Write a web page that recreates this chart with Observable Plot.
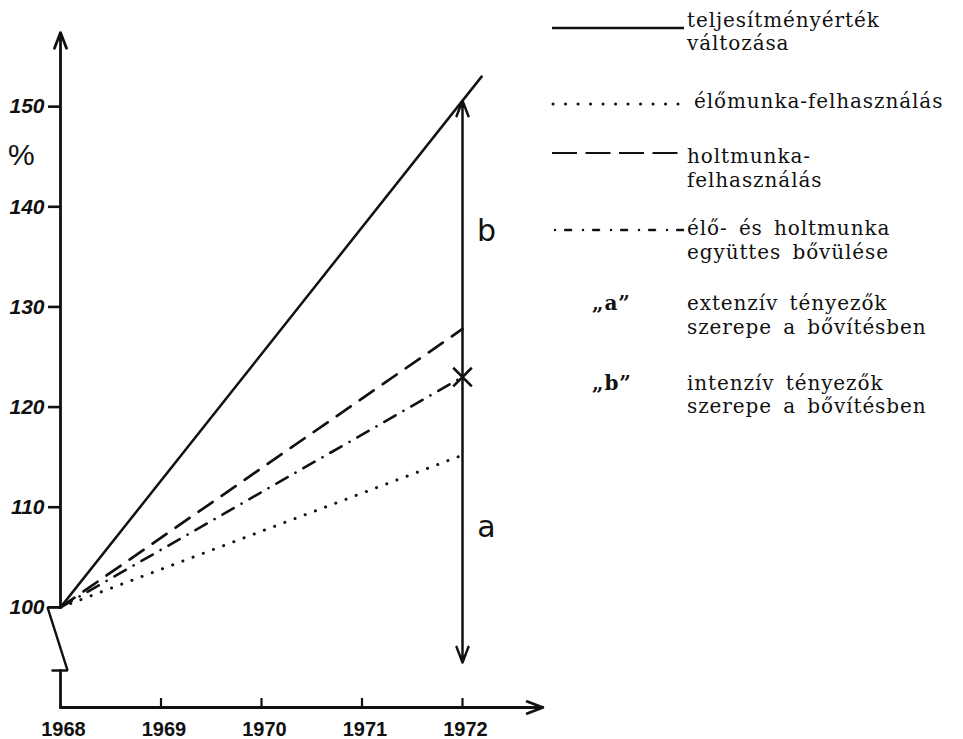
<!DOCTYPE html>
<html><head><meta charset="utf-8">
<script src="https://cdn.jsdelivr.net/npm/d3@7"></script>
<script src="https://cdn.jsdelivr.net/npm/@observablehq/plot@0.6"></script>
<style>
html,body{margin:0;padding:0;background:#fff;}
#chart svg{display:block;background:#fff;}
</style></head><body><div id="chart"></div>
<script>
// ---- data ----
const years = [1968, 1972];
const xTicks = [1968, 1969, 1970, 1971, 1972];
const xTickLabels = ["1968", "1969", "1970", "1971", "1972"];
const yTicks = [100, 110, 120, 130, 140, 150];

// teljesítményérték változása (solid, drawn a little beyond 1972)
const teljYears = [1968, 1972.19];
const teljValues = [100, 153.0];
// élőmunka-felhasználás (dotted)
const eloValues = [100, 115.2];
// holtmunka-felhasználás (dashed)
const holtValues = [100, 127.8];
// élő- és holtmunka együttes bővülése (dash-dot)
const egyuttValues = [100, 123.0];

// the a / b double arrow at 1972
const arrowYear = 1972;
const arrowBottom = 94.5;
const arrowSplit = 123.0;
const arrowTop = 150.6;
const segLabels = ["a", "b"];
const segLabelValues = [108, 137.5];

// axis extents and the broken-axis zigzag
const yDomain = [90, 160];
const yAxisTop = 157.4;
const xAxisEnd = 1972.8;
const axisBreakX = [1968, 1967.871, 1968.07, 1967.92];
const axisBreakY = [100, 100, 93.7, 93.7];

// legend
const legendKinds = ["solid", "dotted", "dashed", "dashdot", "„a”", "„b”"];
const legendTexts = [
  ["teljesítményérték", "változása"],
  ["élőmunka-felhasználás"],
  ["holtmunka-", "felhasználás"],
  ["élő- és holtmunka", "együttes bővülése"],
  ["extenzív tényezők", "szerepe a bővítésben"],
  ["intenzív tényezők", "szerepe a bővítésben"]
];

const W = 963, H = 739;
const ink = "#111";

const chart = Plot.plot({
  width: W,
  height: H,
  marginLeft: 60,
  marginRight: 501,
  marginTop: 6,
  marginBottom: 32,
  x: {domain: [years[0], years[1]], axis: null},
  y: {domain: yDomain, axis: null},
  style: {background: "#fff", color: ink},
  marks: [
    // y axis (upper part with arrow, lower stub, zigzag break)
    Plot.arrow([0], {x1: years[0], y1: 100, x2: years[0], y2: yAxisTop, stroke: ink, strokeWidth: 2.8, headLength: 9, headAngle: 42}),
    Plot.line([0, 1], {x: [years[0], years[0]], y: [axisBreakY[2], yDomain[0]], stroke: ink, strokeWidth: 2.8}),
    Plot.line(axisBreakX, {x: axisBreakX, y: axisBreakY, stroke: ink, strokeWidth: 2.4, strokeLinejoin: "miter"}),
    Plot.axisY({ticks: yTicks, tickSize: 12, tickPadding: 4, strokeWidth: 2.6, fontSize: 21, fontStyle: "italic", fontWeight: "bold", fontFamily: "Liberation Sans", fill: ink}),
    // x axis
    Plot.arrow([0], {x1: years[0], y1: yDomain[0], x2: xAxisEnd, y2: yDomain[0], stroke: ink, strokeWidth: 2.8, headLength: 9, headAngle: 42}),
    Plot.tickX(xTicks.slice(1), {x: d => d, insetTop: 692, stroke: ink, strokeWidth: 2.2}),
    Plot.text(xTicks, {x: d => d, y: yDomain[0], text: (d, i) => xTickLabels[i], dy: 22, dx: 3, fontSize: 20, fontWeight: "bold", fontFamily: "Liberation Sans", fill: ink}),
    // series
    Plot.line(teljValues, {x: teljYears, y: teljValues, stroke: ink, strokeWidth: 2.5}),
    Plot.line(holtValues, {x: years, y: holtValues, stroke: ink, strokeWidth: 2.7, strokeDasharray: "17,11"}),
    Plot.line(egyuttValues, {x: years, y: egyuttValues, stroke: ink, strokeWidth: 2.6, strokeLinecap: "round", strokeDasharray: "13,9,0.1,9"}),
    Plot.line(eloValues, {x: years, y: eloValues, stroke: ink, strokeWidth: 3, strokeLinecap: "round", strokeDasharray: "0.1,10.8"}),
    // a / b arrow
    Plot.arrow([0], {x1: arrowYear, y1: arrowSplit, x2: arrowYear, y2: arrowTop, stroke: ink, strokeWidth: 2.5, headLength: 10, headAngle: 42}),
    Plot.arrow([0], {x1: arrowYear, y1: arrowSplit, x2: arrowYear, y2: arrowBottom, stroke: ink, strokeWidth: 2.5, headLength: 10, headAngle: 42}),
    Plot.dot([arrowSplit], {x: arrowYear, y: d => d, symbol: "times", r: 8.5, stroke: ink, strokeWidth: 2.6}),
    Plot.text(segLabelValues, {x: arrowYear, y: d => d, text: (d, i) => segLabels[i], dx: 24, fontSize: 30, fontFamily: "DejaVu Sans", fill: ink})
  ]
});

document.getElementById("chart").appendChild(chart);

// ---- "%" axis label and legend (layout in pixels) ----
const svg = d3.select(chart);
svg.append("text").attr("x", 8).attr("y", 165).attr("text-anchor", "start")
  .attr("font-family", "Liberation Sans").attr("font-size", 30).attr("fill", ink).text("%");

const lg = svg.append("g").attr("font-family", "DejaVu Serif").attr("font-size", 20)
  .attr("letter-spacing", 0.9).attr("fill", ink).attr("text-anchor", "start");
const textX = 687;
const baselines = [[27, 50], [108], [163, 187], [235, 259], [310, 334], [390, 413]];
const swatchY = [28, 104, 153, 230];
const swatchStyle = {
  solid: {w: 2.6, dash: null, cap: "butt", x1: 552, x2: 684},
  dotted: {w: 3, dash: "0.1,12.4", cap: "round", x1: 553, x2: 678},
  dashed: {w: 2, dash: "25,8.5", cap: "butt", x1: 552, x2: 678},
  dashdot: {w: 2.4, dash: "0.1,10,6,11.9", cap: "round", x1: 555, x2: 684}
};
legendKinds.forEach((k, i) => {
  const s = swatchStyle[k];
  if (s) {
    const line = lg.append("line").attr("x1", s.x1).attr("x2", s.x2).attr("y1", swatchY[i]).attr("y2", swatchY[i])
      .attr("stroke", ink).attr("stroke-width", s.w).attr("stroke-linecap", s.cap);
    if (s.dash) line.attr("stroke-dasharray", s.dash);
  } else {
    lg.append("text").attr("x", 592).attr("y", baselines[i][0]).attr("font-weight", "bold").text(k);
  }
  legendTexts[i].forEach((t, j) => {
    lg.append("text").attr("x", i === 1 ? 694 : textX).attr("y", baselines[i][j]).attr("word-spacing", 4).text(t);
  });
});
</script>
</body></html>
